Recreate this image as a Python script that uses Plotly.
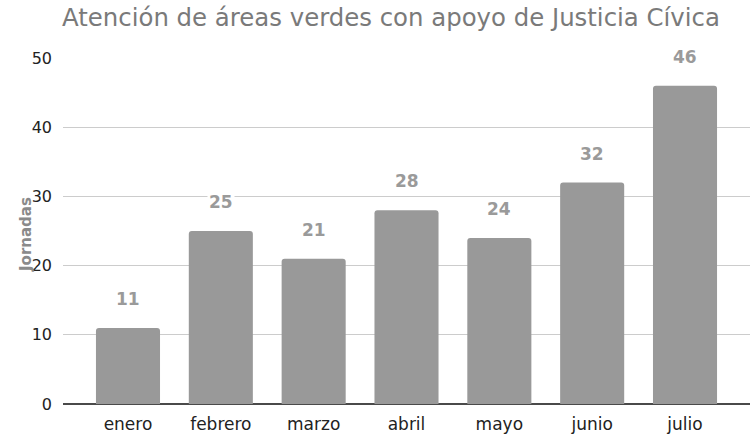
import plotly.graph_objects as go

months = ["enero", "febrero", "marzo", "abril", "mayo", "junio", "julio"]
jornadas = [11, 25, 21, 28, 24, 32, 46]
y_ticks = [0, 10, 20, 30, 40, 50]

FONT = "DejaVu Sans"
BAR = "#999999"

fig = go.Figure()
fig.add_trace(go.Bar(
    x=months, y=jornadas, width=0.69,
    marker=dict(color=BAR, cornerradius=3, line=dict(width=0)),
    hoverinfo="x+y",
))

annotations = []
for m, v in zip(months, jornadas):
    annotations.append(dict(
        x=m, y=v, xref="x", yref="y", text=f"<b>{v}</b>", showarrow=False,
        yshift=29, font=dict(family=FONT, size=17, color="#9a9a9a"),
        bgcolor="white", borderpad=1,
    ))
annotations.append(dict(
    x=(26 - 63) / 687, y=(404 - 235) / 346, xref="paper", yref="paper",
    text="<b>Jornadas</b>", showarrow=False, textangle=-90,
    xanchor="center", yanchor="middle",
    font=dict(family=FONT, size=15, color="#8a8a8a"),
))

fig.update_layout(
    width=750, height=436,
    margin=dict(l=63, r=0, t=58, b=32),
    paper_bgcolor="white", plot_bgcolor="white",
    font=dict(family=FONT, color="#333333"),
    title=dict(text="Atención de áreas verdes con apoyo de Justicia Cívica",
               x=62/750, xanchor="left", y=1 - 17/436, yanchor="middle",
               font=dict(family=FONT, size=24.4, color="#7a7a7a")),
    showlegend=False,
    annotations=annotations,
)
fig.update_xaxes(
    range=[-0.7, 6.7], showgrid=False, showline=False, zeroline=False,
    tickfont=dict(family=FONT, size=17, color="#222222"), ticks="",
    ticklabelstandoff=8,
)
fig.update_yaxes(
    range=[0, 50], tickvals=y_ticks, showgrid=True, gridcolor="#cccccc",
    gridwidth=1, zeroline=True, zerolinecolor="#4a4a4a", zerolinewidth=2,
    showline=False, ticks="", ticklabelstandoff=10,
    tickfont=dict(family=FONT, size=16, color="#222222"),
)

fig.write_html("out.html", config={"displayModeBar": False},
               post_script="document.body.style.margin='0';")
